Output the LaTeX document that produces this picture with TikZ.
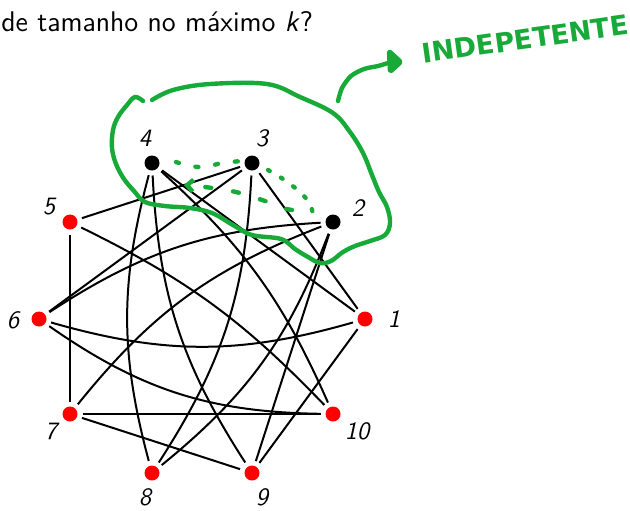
\documentclass[tikz,border=0pt]{standalone}
\usepackage{fontspec}
\usetikzlibrary{arrows.meta}
\definecolor{mygreen}{RGB}{24,170,56}
\newfontfamily\handfont{DejaVu Sans}
\begin{document}
\begin{tikzpicture}[x=0.5pt,y=-0.5pt,
  vtx/.style={circle,fill=red,inner sep=0pt,minimum size=7.5pt,outer sep=2.5pt},
  bvtx/.style={vtx,fill=black},
  lbl/.style={font=\sffamily\itshape\fontsize{12.5}{15}\selectfont,inner sep=0pt},
  edge/.style={line width=1pt},
  grn/.style={draw=mygreen,line width=2.2pt,line cap=round,line join=round}]
\useasboundingbox (0,0) rectangle (630,510);
% title
\node[anchor=base west,inner sep=0pt,font=\sffamily\fontsize{14.2}{17}\selectfont] (title) at (1,31) {de tamanho no máximo \textit{k}?};
% vertices
\node[vtx]  (n1)  at (365,319) {};
\node[bvtx] (n2)  at (333,222) {};
\node[bvtx] (n3)  at (252,163) {};
\node[bvtx] (n4)  at (152,163) {};
\node[vtx]  (n5)  at (70,222) {};
\node[vtx]  (n6)  at (39,319) {};
\node[vtx]  (n7)  at (70,414) {};
\node[vtx]  (n8)  at (152,473) {};
\node[vtx]  (n9)  at (252,473) {};
\node[vtx]  (n10) at (333,414) {};
% labels
\node[lbl] (l1)  at (394,319) {1};
\node[lbl] (l2)  at (358,208) {2};
\node[lbl] (l3)  at (262,138) {3};
\node[lbl] (l4)  at (145,138) {4};
\node[lbl] (l5)  at (49,207) {5};
\node[lbl] (l6)  at (13,320) {6};
\node[lbl] (l7)  at (51,431) {7};
\node[lbl] (l8)  at (145,497) {8};
\node[lbl] (l9)  at (262,497) {9};
\node[lbl] (l10) at (357,431) {10};
% edges
\draw[edge] (n1) -- (n3);
\draw[edge] (n1) -- (n4);
\draw[edge] (n1) -- (n9);
\draw[edge] (n2) -- (n9);
\draw[edge] (n3) -- (n5);
\draw[edge] (n3) -- (n6);
\draw[edge] (n5) -- (n7);
\draw[edge] (n7) -- (n9);
\draw[edge] (n7) -- (n10);
\draw[edge] (n6) to[bend right=16] (n1);
\draw[edge] (n4) to[bend right=15] (n8);
\draw[edge] (n4) to[bend right=15] (n9);
\draw[edge] (n3) to[bend left=15] (n8);
\draw[edge] (n6) to[bend left=15] (n2);
\draw[edge] (n2) to[bend right=15] (n7);
\draw[edge] (n2) to[bend left=15] (n8);
\draw[edge] (n4) to[bend left=12] (n10);
\draw[edge] (n5) to[bend left=10] (n10);
\draw[edge] (n6) to[bend right=17] (n10);
% green annotations
\draw[grn] plot[smooth,tension=0.6] coordinates {(152,100) (173,90) (210,84) (267,84) (300,97) (333,113) (350,132) (363,153) (372,175) (379,192) (387,207) (390,223) (385,235) (370,241) (355,246) (343,252) (331,261) (320,263) (308,257) (295,249) (281,239) (252,235) (233,225) (212,213) (190,208) (165,206) (145,202) (134,191) (124,179) (116,164) (112,148) (113,130) (118,117) (127,105) (135,97) (143,101)};
\draw[grn,dash pattern=on 1.5pt off 8.5pt] plot[smooth] coordinates {(176,162) (190,166) (205,167) (222,163) (242,161)};
\draw[grn,dash pattern=on 1pt off 6.5pt] plot[smooth] coordinates {(268,170) (283,179) (300,192) (310,204) (314,218)};
\draw[grn,dash pattern=on 3pt off 11pt,-{Straight Barb[length=3pt,width=6pt]}] plot[smooth] coordinates {(292,210) (283,208) (265,201) (236,192) (205,187) (184,185)};
\draw[grn] plot[smooth] coordinates {(338,101) (342,88) (351,76) (364,69) (378,66) (388,63)};
\draw[grn,fill=mygreen,rounded corners=1pt] (389,51) -- (401,62) -- (390,72) -- cycle;
\node[rotate=8,font=\handfont\bfseries\fontsize{13.5}{15}\selectfont,text=mygreen,inner sep=0pt] (indep) at (525,39) {INDEPETENTE};
\end{tikzpicture}
\end{document}
